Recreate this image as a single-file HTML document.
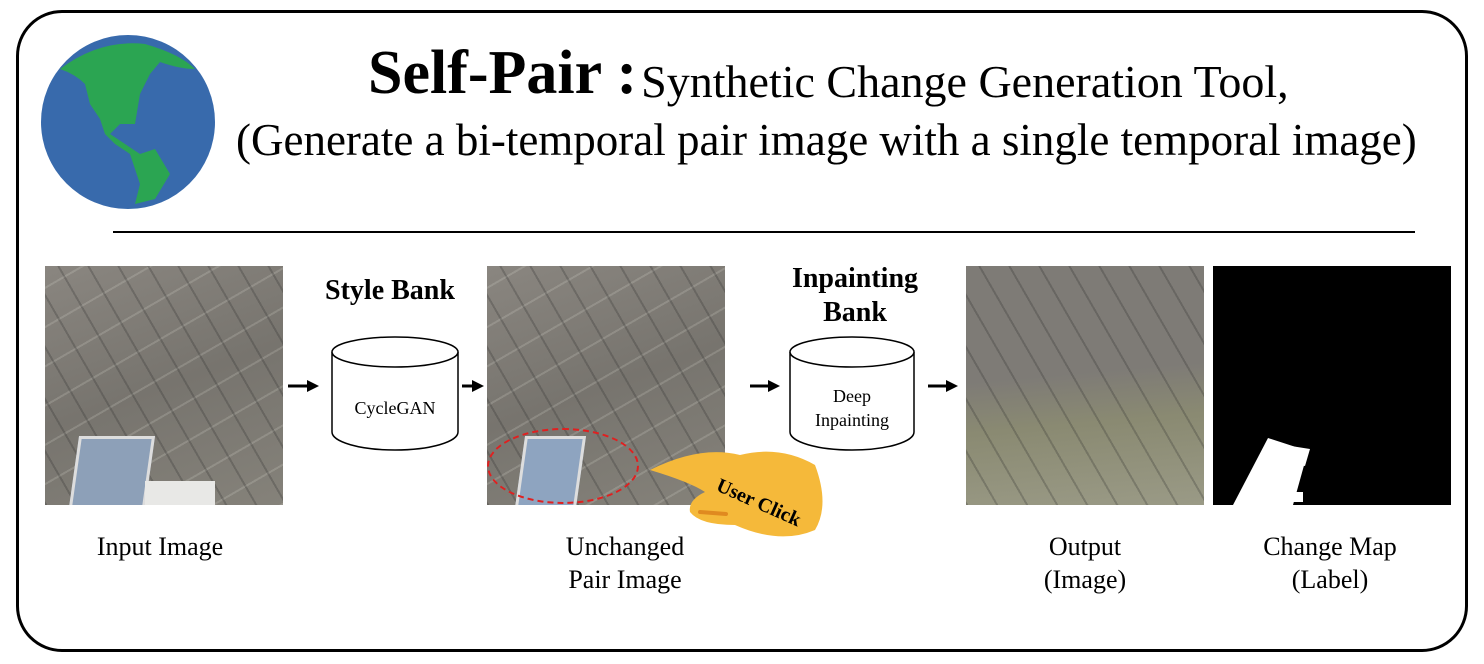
<!DOCTYPE html>
<html><head><style>
body{margin:0;width:1484px;height:664px;background:#fff;overflow:hidden;font-family:"Liberation Serif",serif;position:relative}
.a{position:absolute}
.lbl{position:absolute;font-size:26px;text-align:center;width:260px;line-height:33px}
.img{position:absolute;width:238px;height:239px;background:
repeating-linear-gradient(60deg,rgba(40,40,40,.25) 0 2px,transparent 2px 26px),
repeating-linear-gradient(-30deg,rgba(230,230,220,.18) 0 2px,transparent 2px 34px),
linear-gradient(160deg,#8a8680,#77746e 50%,#85827a);overflow:hidden}
</style></head><body>
<div class="a" style="left:16px;top:10px;width:1446px;height:636px;border:3px solid #000;border-radius:46px"></div>
<svg class="a" style="left:40px;top:34px" width="176" height="176" viewBox="0 0 176 176">
<circle cx="88" cy="88" r="87" fill="#386aac"/>
<path d="M20 35 Q60 5 105 10 Q140 20 155 35 Q140 35 120 28 L110 40 L100 60 L95 90 L80 90 L70 100 L100 120 L115 115 L130 140 L115 165 L95 170 L100 150 L90 120 L75 110 L65 100 L60 85 L50 70 L45 50 Q35 40 20 35Z" fill="#2ba552"/>
</svg>
<div class="a" style="left:368px;top:38px;white-space:nowrap"><b style="font-size:62px">Self-Pair :</b> <span style="font-size:46px;position:relative;top:4px">Synthetic Change Generation Tool,</span></div>
<div class="a" style="left:236px;top:114px;font-size:45px;white-space:nowrap">(Generate a bi-temporal pair image with a single temporal image)</div>
<div class="a" style="left:113px;top:231px;width:1302px;height:2px;background:#000"></div>

<div class="img" style="left:45px;top:266px"><div class="a" style="left:28px;top:170px;width:70px;height:80px;background:#8da0b8;transform:skewX(-8deg);border:3px solid #ddd"></div><div class="a" style="left:100px;top:215px;width:70px;height:30px;background:#e8e8e6"></div></div>
<div class="img" style="left:487px;top:266px"><div class="a" style="left:32px;top:170px;width:55px;height:80px;background:#8ea4c0;transform:skewX(-8deg);border:3px solid #ddd"></div>
<div class="a" style="left:0;top:162px;width:148px;height:72px;border:2px dashed #e02020;border-radius:50%"></div></div>
<div class="img" style="left:966px;top:266px;background:repeating-linear-gradient(60deg,rgba(40,40,40,.25) 0 2px,transparent 2px 26px),linear-gradient(175deg,#7e7b76 0,#7e7b76 45%,#8a8a72 65%,#9a9a86)"></div>
<div class="a" style="left:1213px;top:266px;width:238px;height:239px;background:#000;overflow:hidden">
<svg width="238" height="239"><polygon points="55,172 95,185 80,239 20,239" fill="#fff"/><polygon points="78,180 97,183 92,200 72,196" fill="#fff"/><rect x="78" y="226" width="12" height="10" fill="#fff"/></svg></div>

<svg class="a" style="left:0;top:0" width="1484" height="664">
<defs><marker id="m" markerWidth="4" markerHeight="4" refX="3" refY="2" orient="auto"><path d="M0 0L4 2L0 4Z"/></marker></defs>
<g stroke="#000" stroke-width="3" marker-end="url(#m)">
<line x1="288" y1="386" x2="316" y2="386"/><line x1="462" y1="386" x2="481" y2="386"/>
<line x1="750" y1="386" x2="777" y2="386"/><line x1="928" y1="386" x2="955" y2="386"/></g>
<g fill="#fff" stroke="#000" stroke-width="1.5">
<path d="M332 352 V432 A63 18 0 0 0 458 432 V352"/><ellipse cx="395" cy="352" rx="63" ry="15"/>
<path d="M790 352 V432 A62 18 0 0 0 914 432 V352"/><ellipse cx="852" cy="352" rx="62" ry="15"/></g>
<path d="M650 470 Q700 445 740 455 Q780 445 815 465 Q830 505 815 530 Q780 545 735 525 Q700 525 690 512 Q688 500 705 492 Q690 482 650 470Z" fill="#f5b93a"/>
<path d="M700 512 L726 514" stroke="#e08a20" stroke-width="4" stroke-linecap="round"/>
<text x="715" y="490" font-size="20" font-weight="bold" font-family="Liberation Serif" transform="rotate(24 715 490)">User Click</text>
</svg>
<div class="a" style="left:335px;top:398px;width:120px;text-align:center;font-size:18px">CycleGAN</div>
<div class="a" style="left:792px;top:384px;width:120px;text-align:center;font-size:18px;line-height:24px">Deep<br>Inpainting</div>
<div class="a" style="left:280px;top:275px;width:220px;text-align:center;font-size:28px;font-weight:bold">Style Bank</div>
<div class="a" style="left:745px;top:262px;width:220px;text-align:center;font-size:28px;font-weight:bold;line-height:34px">Inpainting<br>Bank</div>
<div class="lbl" style="left:30px;top:530px">Input Image</div>
<div class="lbl" style="left:495px;top:530px">Unchanged<br>Pair Image</div>
<div class="lbl" style="left:955px;top:530px">Output<br>(Image)</div>
<div class="lbl" style="left:1200px;top:530px">Change Map<br>(Label)</div>
</body></html>
